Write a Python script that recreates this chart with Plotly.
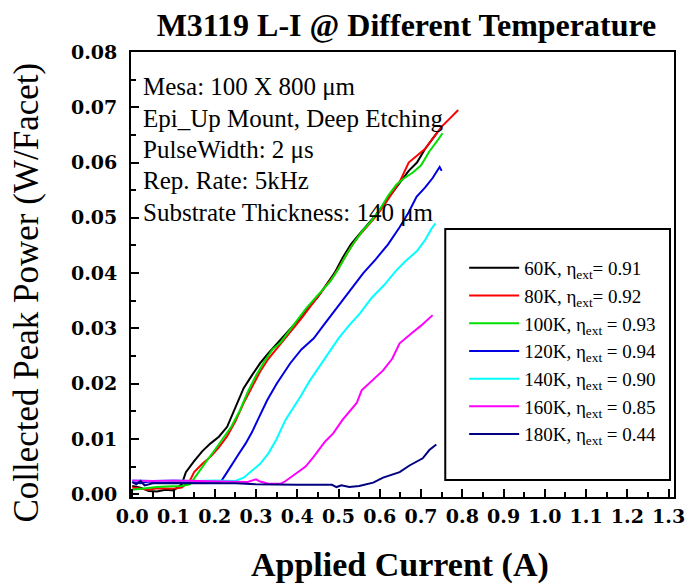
import plotly.graph_objects as go

# ---------------- data ----------------
I_60 = [0.0, 0.02, 0.04, 0.06, 0.08, 0.10, 0.12, 0.13, 0.15, 0.17, 0.19, 0.21, 0.23, 0.25, 0.27, 0.29,
        0.31, 0.33, 0.35, 0.37, 0.39, 0.41, 0.43, 0.45, 0.47, 0.49, 0.51, 0.53, 0.55, 0.57, 0.59,
        0.61, 0.63, 0.65, 0.67, 0.69, 0.71, 0.73, 0.74]
P_60 = [0.0015, 0.0012, 0.0006, 0.0005, 0.0008, 0.0007, 0.0018, 0.0040, 0.0060, 0.0078, 0.0092, 0.0104,
        0.0122, 0.0158, 0.0192, 0.0215, 0.0237, 0.0255, 0.0272, 0.0290, 0.0305, 0.0320, 0.0340, 0.0357,
        0.0378, 0.0400, 0.0428, 0.0452, 0.0470, 0.0487, 0.0505, 0.0525, 0.0545, 0.0565, 0.0585, 0.0600,
        0.0625, 0.0645, 0.0655]

I_80 = [0.0, 0.02, 0.04, 0.06, 0.08, 0.10, 0.12, 0.14, 0.15, 0.17, 0.19, 0.21, 0.23, 0.25, 0.27, 0.29,
        0.31, 0.33, 0.35, 0.37, 0.39, 0.41, 0.43, 0.45, 0.47, 0.49, 0.51, 0.53, 0.55, 0.57, 0.59,
        0.61, 0.63, 0.65, 0.67, 0.69, 0.71, 0.73, 0.75, 0.77, 0.79]
P_80 = [0.0012, 0.0010, 0.0008, 0.0011, 0.0010, 0.0010, 0.0012, 0.0025, 0.0040, 0.0055, 0.0068, 0.0085,
        0.0105, 0.0132, 0.0165, 0.0195, 0.0222, 0.0245, 0.0263, 0.0282, 0.0300, 0.0318, 0.0338, 0.0357,
        0.0377, 0.0397, 0.0422, 0.0447, 0.0468, 0.0485, 0.0502, 0.0522, 0.0545, 0.0568, 0.0600, 0.0612,
        0.0625, 0.0645, 0.0665, 0.0680, 0.0695]

I_100 = [0.0, 0.02, 0.04, 0.06, 0.08, 0.10, 0.12, 0.14, 0.16, 0.18, 0.20, 0.22, 0.24, 0.26, 0.28, 0.30,
         0.32, 0.34, 0.36, 0.38, 0.40, 0.42, 0.44, 0.46, 0.48, 0.50, 0.52, 0.54, 0.56, 0.58, 0.60,
         0.62, 0.64, 0.66, 0.68, 0.70, 0.72, 0.74, 0.752]
P_100 = [0.0008, 0.0010, 0.0012, 0.0013, 0.0014, 0.0015, 0.0015, 0.0018, 0.0040, 0.0060, 0.0080, 0.0100,
         0.0122, 0.0150, 0.0185, 0.0215, 0.0240, 0.0262, 0.0275, 0.0295, 0.0315, 0.0335, 0.0352, 0.0368,
         0.0385, 0.0408, 0.0435, 0.0458, 0.0478, 0.0495, 0.0515, 0.0540, 0.0560, 0.0572, 0.0582, 0.0595,
         0.0620, 0.0640, 0.0653]

I_120 = [0.0, 0.02, 0.04, 0.06, 0.10, 0.15, 0.20, 0.215, 0.23, 0.243, 0.26, 0.275, 0.29, 0.304, 0.327,
         0.35, 0.383, 0.41, 0.44, 0.463, 0.49, 0.52, 0.535, 0.56, 0.59, 0.62, 0.648, 0.67, 0.689, 0.71,
         0.728, 0.745, 0.75]
P_120 = [0.0022, 0.0020, 0.0023, 0.0021, 0.0022, 0.0022, 0.0022, 0.0023, 0.0040, 0.0056, 0.0075, 0.0092,
         0.0112, 0.0134, 0.0170, 0.0200, 0.0237, 0.0262, 0.0282, 0.0305, 0.0332, 0.0360, 0.0377, 0.0400,
         0.0425, 0.0452, 0.0483, 0.0510, 0.0538, 0.0555, 0.0572, 0.0592, 0.0585]

I_140 = [0.0, 0.05, 0.10, 0.15, 0.20, 0.25, 0.27, 0.29, 0.31, 0.33, 0.35, 0.371, 0.39, 0.407, 0.43, 0.455,
         0.48, 0.50, 0.525, 0.552, 0.58, 0.61, 0.64, 0.66, 0.69, 0.71, 0.725, 0.735]
P_140 = [0.0025, 0.0024, 0.0025, 0.0024, 0.0025, 0.0024, 0.0030, 0.0043, 0.0055, 0.0074, 0.0100, 0.0134,
         0.0155, 0.0176, 0.0205, 0.0232, 0.0260, 0.0282, 0.0305, 0.0327, 0.0355, 0.0378, 0.0405, 0.0420,
         0.0440, 0.0460, 0.0480, 0.0490]

I_160 = [0.0, 0.05, 0.10, 0.15, 0.20, 0.25, 0.28, 0.30, 0.31, 0.33, 0.36, 0.37, 0.39, 0.407, 0.42, 0.44,
         0.467, 0.487, 0.51, 0.544, 0.556, 0.58, 0.608, 0.63, 0.648, 0.68, 0.70, 0.728]
P_160 = [0.0025, 0.0024, 0.0025, 0.0024, 0.0024, 0.0023, 0.0022, 0.0027, 0.0023, 0.0019, 0.0019, 0.0023,
         0.0033, 0.0043, 0.0050, 0.0068, 0.0095, 0.0110, 0.0135, 0.0165, 0.0188, 0.0205, 0.0224, 0.0245,
         0.0273, 0.0293, 0.0305, 0.0324]

I_180 = [0.0, 0.01, 0.02, 0.03, 0.05, 0.10, 0.15, 0.20, 0.25, 0.30, 0.35, 0.40, 0.484, 0.495, 0.507, 0.526,
         0.55, 0.584, 0.608, 0.648, 0.672, 0.704, 0.72, 0.737]
P_180 = [0.0022, 0.0018, 0.0024, 0.0016, 0.0020, 0.0020, 0.0021, 0.0021, 0.0020, 0.0018, 0.0017, 0.0017,
         0.0017, 0.0013, 0.0016, 0.0013, 0.0015, 0.0021, 0.0030, 0.0040, 0.0052, 0.0065, 0.0080, 0.0090]

series_names = ["60K, η<sub>ext</sub>= 0.91", "80K, η<sub>ext</sub>= 0.92", "100K, η<sub>ext</sub> = 0.93",
                "120K, η<sub>ext</sub> = 0.94", "140K, η<sub>ext</sub> = 0.90", "160K, η<sub>ext</sub> = 0.85",
                "180K, η<sub>ext</sub> = 0.44"]
series_colors = ["#000000", "#ff0000", "#00e000", "#0000e0", "#00ffff", "#ff00ff", "#000080"]
series_x = [I_60, I_80, I_100, I_120, I_140, I_160, I_180]
series_y = [P_60, P_80, P_100, P_120, P_140, P_160, P_180]

info_lines = ["Mesa: 100 X 800 μm", "Epi_Up Mount, Deep Etching", "PulseWidth: 2 μs",
              "Rep. Rate: 5kHz", "Substrate Thickness: 140 μm"]

x_ticks = [round(0.1 * i, 1) for i in range(14)]
y_ticks = [0.00, 0.01, 0.02, 0.03, 0.04, 0.05, 0.06, 0.07, 0.08]

# ---------------- figure ----------------
W, H = 697, 583
L, R, T, B = 131, 20, 52, 86
pw, ph = W - L - R, H - T - B

def px(xp):
    return (xp - L) / pw

def py(yp):
    return (H - B - yp) / ph

fig = go.Figure()
for xs, ys, nm, c in zip(series_x, series_y, series_names, series_colors):
    fig.add_trace(go.Scatter(x=xs, y=ys, mode="lines", name=nm,
                             line=dict(color=c, width=2)))

serif = "Liberation Serif, Times New Roman, serif"
tickfont = dict(family="DejaVu Serif", size=19, color="black", weight="bold")

fig.update_layout(
    width=W, height=H,
    margin=dict(l=L, r=R, t=T, b=B),
    paper_bgcolor="white", plot_bgcolor="white",
    showlegend=True,
    legend=dict(x=px(466), y=py(249), xanchor="left", yanchor="top",
                font=dict(family=serif, size=19, color="black"),
                bgcolor="rgba(0,0,0,0)", borderwidth=0, tracegroupgap=0,
                itemwidth=50),
    title=dict(text="<b>M3119 L-I @ Different Temperature</b>",
               font=dict(family=serif, size=32, color="black"),
               x=px(408), xref="paper", xanchor="center",
               y=1 - 25 / H, yref="container", yanchor="middle"),
)

fig.update_xaxes(
    range=[-0.003, 1.313], tickvals=x_ticks, ticktext=[f"{v:.1f}" for v in x_ticks],
    ticks="inside", ticklen=8, tickwidth=2, tickcolor="black", ticklabelstandoff=1,
    minor=dict(ticks="inside", ticklen=5, tickwidth=2, tickcolor="black", dtick=0.05, tick0=0),
    showline=True, linewidth=2, linecolor="black", mirror=True,
    showgrid=False, zeroline=False, tickfont=tickfont,
)
fig.update_yaxes(
    range=[-0.0005, 0.08], tickvals=y_ticks, ticktext=[f"{v:.2f}" for v in y_ticks],
    ticks="inside", ticklen=8, tickwidth=2, tickcolor="black", ticklabelstandoff=8,
    minor=dict(ticks="inside", ticklen=5, tickwidth=2, tickcolor="black", dtick=0.005, tick0=0),
    showline=True, linewidth=2, linecolor="black", mirror=True,
    showgrid=False, zeroline=False, tickfont=tickfont,
)

# legend frame
fig.add_shape(type="rect", xref="paper", yref="paper",
              x0=px(447), x1=px(673), y0=py(480), y1=py(229),
              line=dict(color="black", width=2), fillcolor="rgba(0,0,0,0)")

# info text lines
for k, line in enumerate(info_lines):
    fig.add_annotation(text=line, xref="paper", yref="paper",
                       x=px(141), y=py(87 + k * 31.3), xanchor="left", yanchor="middle",
                       showarrow=False, font=dict(family=serif, size=25, color="black"))

# axis titles
fig.add_annotation(text="<b>Applied Current (A)</b>", xref="paper", yref="paper",
                   x=px(401), y=py(565), xanchor="center", yanchor="middle",
                   showarrow=False, font=dict(family=serif, size=34, color="black"))
fig.add_annotation(text="Collected Peak Power (W/Facet)", xref="paper", yref="paper",
                   x=px(25), y=py(293), xanchor="center", yanchor="middle", textangle=-90,
                   showarrow=False, font=dict(family=serif, size=35, color="black"))

fig.write_html("out.html", config={"displayModeBar": False},
               post_script="document.body.style.margin='0px';")
